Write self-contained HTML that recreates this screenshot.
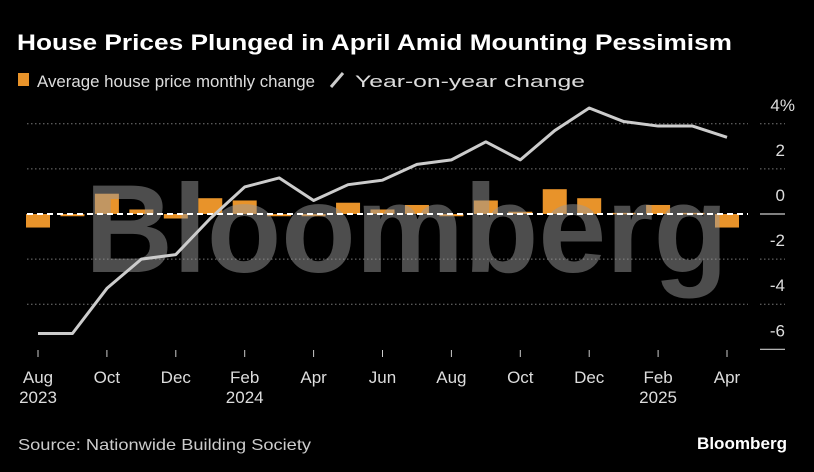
<!DOCTYPE html>
<html><head><meta charset="utf-8"><style>
html,body{margin:0;padding:0;background:#000;}
svg{display:block;font-family:"Liberation Sans",sans-serif;}
</style></head><body>
<svg id="chart" width="814" height="472" viewBox="0 0 814 472">
<rect width="814" height="472" fill="#000"/>
<text x="17" y="50" fill="#fff" font-size="22" font-weight="bold" textLength="715" lengthAdjust="spacingAndGlyphs">House Prices Plunged in April Amid Mounting Pessimism</text>
<rect x="18" y="73" width="11" height="13" fill="#e8932a"/>
<text x="37" y="87" fill="#ddd" font-size="17" textLength="278" lengthAdjust="spacingAndGlyphs">Average house price monthly change</text>
<line x1="331" y1="87" x2="343" y2="73" stroke="#ccc" stroke-width="3"/>
<text x="355" y="87" fill="#ddd" font-size="17" textLength="230" lengthAdjust="spacingAndGlyphs">Year-on-year change</text>
<g id="grid"></g>
<g id="bars"></g>
<text x="85" y="272" fill="#999" fill-opacity="0.5" font-size="125" font-weight="bold" textLength="643" lengthAdjust="spacingAndGlyphs">Bloomberg</text>
<g id="zero"></g>
<g id="line"></g>
<g id="yaxis"></g>
<g id="xaxis"></g>
<text x="18" y="450" fill="#ccc" font-size="16" textLength="293" lengthAdjust="spacingAndGlyphs">Source: Nationwide Building Society</text>
<text x="697" y="449" fill="#fff" font-size="17" font-weight="bold" textLength="90" lengthAdjust="spacingAndGlyphs">Bloomberg</text>
</svg>
<script>
const months = ["Aug","Sep","Oct","Nov","Dec","Jan","Feb","Mar","Apr","May","Jun","Jul","Aug","Sep","Oct","Nov","Dec","Jan","Feb","Mar","Apr"];
const monthlyChange = [-0.6,-0.1,0.9,0.2,-0.2,0.7,0.6,-0.1,-0.1,0.5,0.2,0.4,-0.1,0.6,0.1,1.1,0.7,0.05,0.4,0.05,-0.6];
const yoyChange = [-5.3,-5.3,-3.3,-2.0,-1.8,-0.2,1.2,1.6,0.6,1.3,1.5,2.2,2.4,3.2,2.4,3.7,4.7,4.1,3.9,3.9,3.4];
const yTicks = [4,2,0,-2,-4,-6];
const yTickLabels = ["4%","2","0","-2","-4","-6"];
const xLabelIdx = [0,2,4,6,8,10,12,14,16,18,20];
const xLabels = ["Aug","Oct","Dec","Feb","Apr","Jun","Aug","Oct","Dec","Feb","Apr"];
const yearLabels = {0:"2023",6:"2024",18:"2025"};

const NS="http://www.w3.org/2000/svg";
const x = i => 38 + i*(727-38)/(months.length-1);
const y = v => 214 - v*22.55;
function mk(tag, attrs, parent){const e=document.createElementNS(NS,tag);for(const k in attrs)e.setAttribute(k,attrs[k]);parent.appendChild(e);return e;}
const grid=document.getElementById('grid'),bars=document.getElementById('bars'),zero=document.getElementById('zero'),line=document.getElementById('line'),ya=document.getElementById('yaxis'),xa=document.getElementById('xaxis');

yTicks.forEach((t,i)=>{
  if(t!==0 && t!==-6){
    const g=mk('line',{x1:27,x2:748,y1:y(t),y2:y(t),stroke:'#777','stroke-width':1,'stroke-dasharray':'1.5 2.5'},grid);
    
    
    const g2=mk('line',{x1:760,x2:785,y1:y(t),y2:y(t),stroke:'#777','stroke-width':1,'stroke-dasharray':'1.5 2.5'},grid);
    
    
  } else {
    const g=mk('line',{x1:760,x2:785,y1:y(t),y2:y(t),stroke:'#ccc','stroke-width':1.2},grid);
    
    
  }
  const tx=mk('text',{x:785,y:y(t)-13,fill:'#ddd','font-size':17,'text-anchor':'end'},ya);
  tx.textContent=yTickLabels[i];
  if(i===0){tx.setAttribute('x',795);}
  
  
});

monthlyChange.forEach((v,i)=>{
  const r=mk('rect',{x:x(i)-12,width:24,y:Math.min(y(v),y(0)),height:Math.max(Math.abs(y(v)-y(0)),1.5),fill:'#e8932a'},bars);
  
  
});

const z=mk('line',{x1:27,x2:748,y1:y(0),y2:y(0),stroke:'#fff','stroke-width':2,'stroke-dasharray':'6 4'},zero);



const p=mk('polyline',{points:yoyChange.map((v,i)=>x(i)+','+y(v)).join(' '),fill:'none',stroke:'#ccc','stroke-width':3,'stroke-linejoin':'round'},line);



xLabelIdx.forEach((idx,k)=>{
  const t=mk('line',{x1:x(idx),x2:x(idx),y1:350,y2:357,stroke:'#ccc','stroke-width':1},xa);
  
  
  const l=mk('text',{x:x(idx),y:383,fill:'#ddd','font-size':17,'text-anchor':'middle'},xa);
  l.textContent=xLabels[k];
  
  
  if(yearLabels[idx]){
    const yl=mk('text',{x:x(idx),y:403,fill:'#ddd','font-size':17,'text-anchor':'middle'},xa);
    yl.textContent=yearLabels[idx];
    
    
  }
});
</script>
</body></html>
